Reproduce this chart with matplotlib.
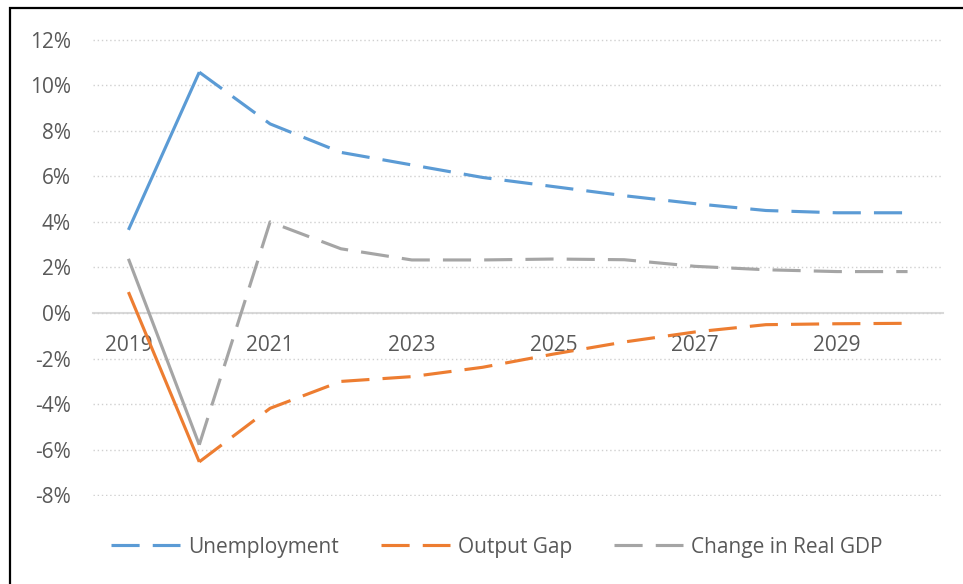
import matplotlib.pyplot as plt
from matplotlib.patches import Rectangle
from matplotlib.ticker import FuncFormatter

# Data (percent)
years = [2019, 2020, 2021, 2022, 2023, 2024, 2025, 2026, 2027, 2028, 2029, 2030]
unemployment = [3.65, 10.57, 8.3, 7.05, 6.5, 5.95, 5.55, 5.15, 4.8, 4.5, 4.4, 4.4]
output_gap = [0.92, -6.53, -4.18, -3.0, -2.79, -2.38, -1.8, -1.27, -0.83, -0.51, -0.47, -0.45]
real_gdp = [2.38, -5.78, 4.0, 2.82, 2.33, 2.33, 2.37, 2.34, 2.05, 1.9, 1.82, 1.82]
xtick_years = [2019, 2021, 2023, 2025, 2027, 2029]

series = [
    ("Unemployment", unemployment, "#5B9BD5"),
    ("Output Gap", output_gap, "#ED7D31"),
    ("Change in Real GDP", real_gdp, "#A5A5A5"),
]

plt.rcParams['font.family'] = ['Open Sans', 'DejaVu Sans']
text_color = "#595959"

fig = plt.figure(figsize=(9.63, 5.84), dpi=100)
ax = fig.add_axes([0.0966, 0.151, 0.8826, 0.782])

for label, vals, color in series:
    # actual year: solid, projections: dashed
    ax.plot(years[:2], vals[:2], color=color, lw=2.25, solid_capstyle='butt')
    ax.plot(years[1:], vals[1:], color=color, lw=2.25, linestyle=(0, (9, 4.2)),
            label=label)

ax.set_xlim(2018.5, 2030.5)
ax.set_ylim(-8.02, 12.02)
ax.set_yticks(range(-8, 13, 2))
ax.yaxis.set_major_formatter(FuncFormatter(lambda v, p: f"{v:.0f}%"))
ax.set_xticks(xtick_years)

ax.grid(axis='y', linestyle=(0, (1, 2)), color='#D0D0D0', lw=1.0)
ax.set_axisbelow(True)

for s in ['top', 'right', 'left']:
    ax.spines[s].set_visible(False)
ax.spines['bottom'].set_position(('data', 0))
ax.spines['bottom'].set_color('#D9D9D9')
ax.spines['bottom'].set_linewidth(1.5)
ax.spines['bottom'].set_zorder(0.5)

ax.tick_params(axis='y', length=0, pad=16, labelsize=15, labelcolor=text_color)
ax.tick_params(axis='x', length=0, pad=16, labelsize=15, labelcolor=text_color)

fig.legend(loc='center', bbox_to_anchor=(497 / 963, 0.063), ncol=3, frameon=False,
           fontsize=15, labelcolor=text_color, handlelength=3.3, handletextpad=0.4,
           columnspacing=2.0)

# figure frame
fig.patches.append(Rectangle((0.0099, -0.1), 1.2, 0.987 + 0.1, transform=fig.transFigure,
                             fill=False, edgecolor='black', lw=1.6, clip_on=False))

fig.savefig("out.png", dpi=100, facecolor='white')
